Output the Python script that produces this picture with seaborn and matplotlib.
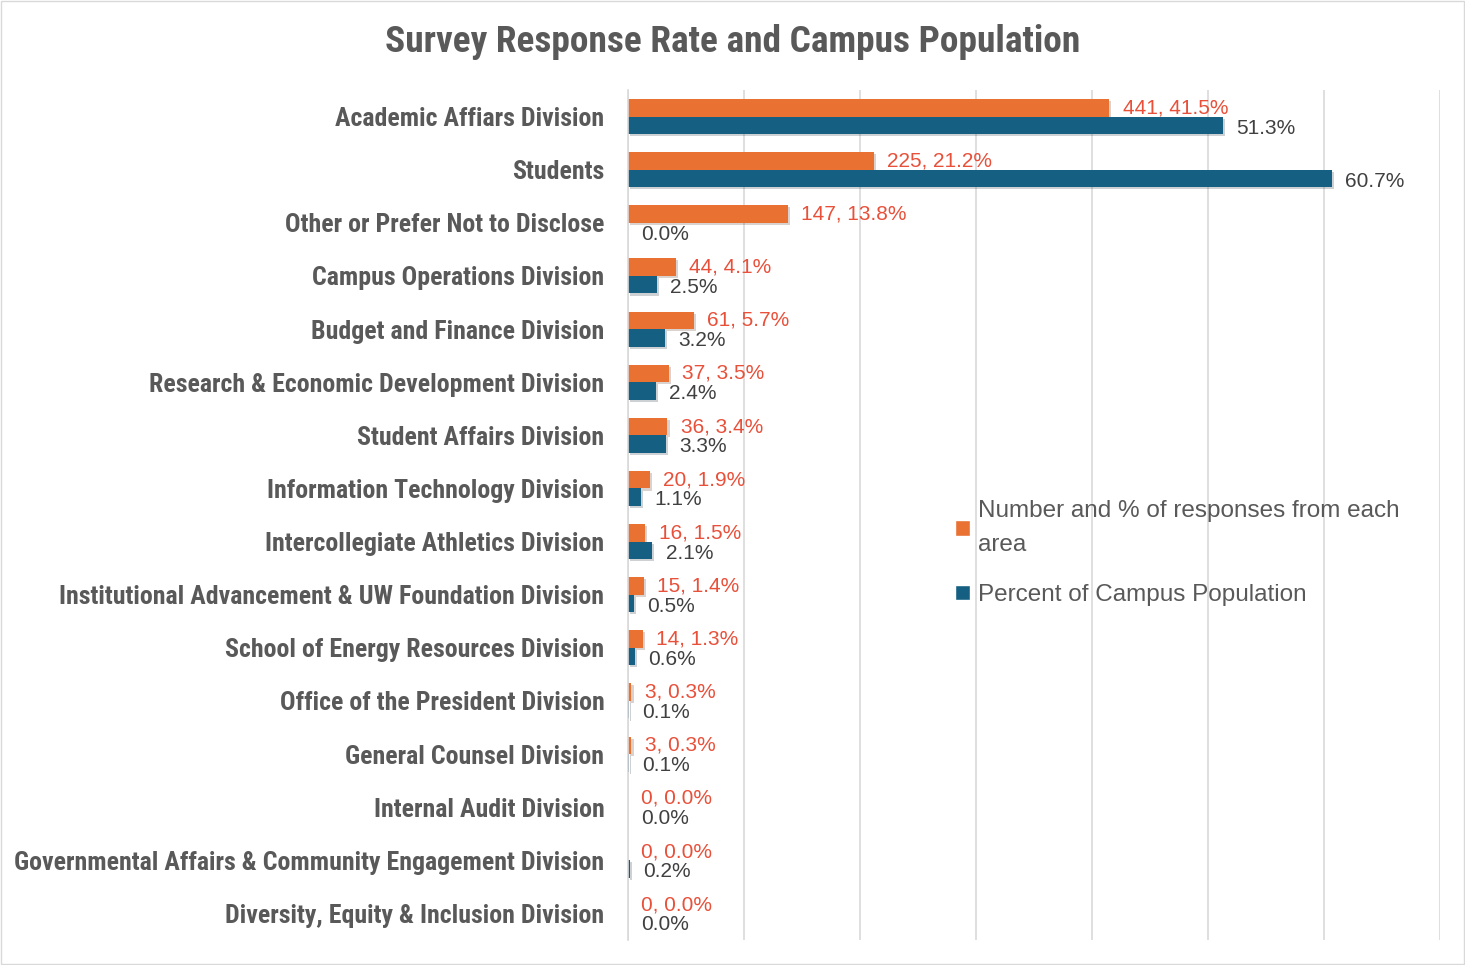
import pandas as pd
import matplotlib.pyplot as plt
import matplotlib.patheffects as pe
from matplotlib.patches import Patch, Rectangle
from matplotlib import font_manager
import seaborn as sns

# data
categories = [
    "Academic Affiars Division",
    "Students",
    "Other or Prefer Not to Disclose",
    "Campus Operations Division",
    "Budget and Finance Division",
    "Research & Economic Development Division",
    "Student Affairs Division",
    "Information Technology Division",
    "Intercollegiate Athletics Division",
    "Institutional Advancement & UW Foundation Division",
    "School of Energy Resources Division",
    "Office of the President Division",
    "General Counsel Division",
    "Internal Audit Division",
    "Governmental Affairs & Community Engagement Division",
    "Diversity, Equity & Inclusion Division",
]
response_counts = [441, 225, 147, 44, 61, 37, 36, 20, 16, 15, 14, 3, 3, 0, 0, 0]
response_pct = [41.5, 21.2, 13.8, 4.1, 5.7, 3.5, 3.4, 1.9, 1.5, 1.4, 1.3, 0.3, 0.3, 0.0, 0.0, 0.0]
campus_pct = [51.3, 60.7, 0.0, 2.5, 3.2, 2.4, 3.3, 1.1, 2.1, 0.5, 0.6, 0.1, 0.1, 0.0, 0.2, 0.0]

series_names = ["Number and % of responses from each\narea", "Percent of Campus Population"]
colors = ["#E97132", "#156082"]
label_colors = ["#E8503A", "#404040"]

df = pd.concat([
    pd.DataFrame({"category": categories, "value": response_pct, "series": series_names[0]}),
    pd.DataFrame({"category": categories, "value": campus_pct, "series": series_names[1]}),
])

sns.set_style("white")
installed = {f.name for f in font_manager.fontManager.ttflist}
narrow_pick = [f for f in ["Liberation Sans Narrow", "Roboto Condensed", "Open Sans Condensed",
                           "DejaVu Sans Condensed", "Roboto", "Liberation Sans"] if f in installed]
narrow = narrow_pick[:1] + ["DejaVu Sans"]
plain = ["Liberation Sans", "DejaVu Sans"]
plt.rcParams["font.family"] = plain

fig = plt.figure(figsize=(14.65, 9.65), dpi=100)
ax = fig.add_axes([628 / 1465, 1 - 940 / 965, 812 / 1465, 850 / 965])

sns.barplot(data=df, y="category", x="value", hue="series", orient="h",
            palette=colors, width=0.66, dodge=True, ax=ax, legend=False,
            saturation=1, linewidth=0)

shadow = [pe.SimplePatchShadow(offset=(1.5, -1.5), alpha=0.2), pe.Normal()]
texts = [[f"{n}, {p:.1f}%" for n, p in zip(response_counts, response_pct)],
         [f"{p:.1f}%" for p in campus_pct]]
dy = [0, -2]
for i, cont in enumerate(ax.containers):
    for bar, txt in zip(cont.patches, texts[i]):
        if bar.get_width() > 0:
            bar.set_path_effects(shadow)
        ax.annotate(txt, (bar.get_width(), bar.get_y() + bar.get_height() / 2),
                    xytext=(9.5, dy[i]), textcoords="offset points",
                    ha="left", va="center", fontsize=15, color=label_colors[i])

ax.set_xlim(0, 70)
ax.set_xticks(range(0, 71, 10))
ax.set_xticklabels([])
ax.tick_params(axis="x", length=0)
ax.tick_params(axis="y", length=0, pad=17)
ax.grid(axis="x", color="#d9d9d9", linewidth=1.2)
ax.set_axisbelow(True)
for s in ["top", "right", "bottom"]:
    ax.spines[s].set_visible(False)
ax.spines["left"].set_color("#d9d9d9")
ax.spines["left"].set_linewidth(1.2)
ax.set_xlabel("")
ax.set_ylabel("")
for lbl in ax.get_yticklabels():
    lbl.set_family(narrow)
    lbl.set_fontweight("bold")
    lbl.set_fontsize(16)
    lbl.set_color("#595959")

handles = [Patch(facecolor=c) for c in colors]
leg = fig.legend(handles, series_names, loc="center left",
                 bbox_to_anchor=(943 / 1465, 1 - 553 / 965), frameon=False,
                 fontsize=17.5, handlelength=0.6, handleheight=0.6,
                 handletextpad=0.35, labelspacing=1.15, borderpad=0)
for t in leg.get_texts():
    t.set_color("#595959")
    t.set_linespacing(1.7)

title = fig.text(0.5, 1 - 42 / 965, "Survey Response Rate and Campus Population",
                 ha="center", va="center", fontsize=24, fontweight="bold",
                 color="#595959", family=narrow)

# fit the substitute font so the text spans what it spans in the picture
fig.canvas.draw()
r = fig.canvas.get_renderer()
widest = max(l.get_window_extent(r).width for l in ax.get_yticklabels())
scale = 589 / widest
for lbl in ax.get_yticklabels():
    lbl.set_fontsize(16 * scale)
tw = title.get_window_extent(r).width
title.set_fontsize(24 * 699 / tw)

fig.add_artist(Rectangle((0.001, 0.001), 0.998, 0.998, transform=fig.transFigure,
                         fill=False, edgecolor="#d9d9d9", linewidth=1))

fig.savefig("out.png", dpi=100)
